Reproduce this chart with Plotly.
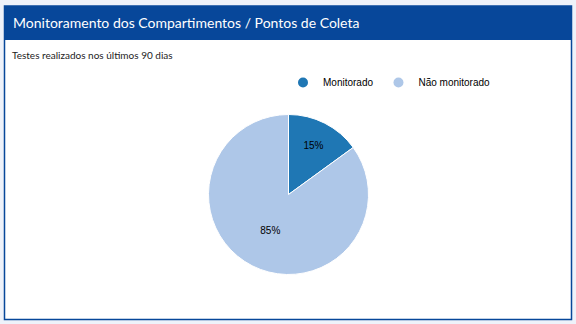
import plotly.graph_objects as go

labels = ["Monitorado", "Não monitorado"]
values = [15, 85]
colors = ["#1f77b4", "#aec7e8"]
title_text = "Monitoramento dos Compartimentos / Pontos de Coleta"
subtitle_text = "Testes realizados nos últimos 90 dias"

W, H = 576, 324
fig = go.Figure()

fig.add_trace(go.Pie(
    labels=labels, values=values, sort=False, direction="clockwise", rotation=0,
    marker=dict(colors=colors, line=dict(color="white", width=1)),
    textinfo="percent", textposition="inside", insidetextorientation="horizontal",
    textfont=dict(family="Liberation Sans, Arial", size=10, color="black"),
    showlegend=False, hoverinfo="label+percent",
    domain=dict(x=[208.5 / W, 368.5 / W], y=[(H - 274.5) / H, (H - 114.5) / H]),
))

for lab, col in zip(labels, colors):
    fig.add_trace(go.Scatter(
        x=[None], y=[None], mode="markers", name=lab,
        marker=dict(symbol="circle", size=10, color=col),
        xaxis="x", yaxis="y",
    ))

fig.update_layout(
    width=W, height=H,
    margin=dict(l=0, r=0, t=0, b=0),
    paper_bgcolor="#eef2fa",
    plot_bgcolor="rgba(0,0,0,0)",
    xaxis=dict(visible=False, domain=[0, 1]),
    yaxis=dict(visible=False, domain=[0, 1]),
    legend=dict(
        orientation="h", x=283 / W, y=1 - 68 / H, xanchor="left", yanchor="top",
        font=dict(family="Liberation Sans, Arial", size=10, color="black"),
        itemwidth=30, tracegroupgap=0, bgcolor="rgba(0,0,0,0)",
    ),
    shapes=[
        dict(type="rect", xref="paper", yref="paper",
             x0=4.5 / W, x1=571.5 / W, y0=1 - 319.5 / H, y1=1 - 6 / H,
             fillcolor="white", line=dict(color="#07479a", width=1.5), layer="below"),
        dict(type="rect", xref="paper", yref="paper",
             x0=4 / W, x1=572 / W, y0=1 - 40 / H, y1=1 - 6 / H,
             fillcolor="#07479a", line=dict(width=0), layer="below"),
    ],
    annotations=[
        dict(text=title_text, xref="paper", yref="paper", x=11 / W, y=1 - 23 / H,
             xanchor="left", yanchor="middle", showarrow=False,
             font=dict(family="Lato", size=14, color="white")),
        dict(text=subtitle_text, xref="paper", yref="paper", x=10 / W, y=1 - 55 / H,
             xanchor="left", yanchor="middle", showarrow=False,
             font=dict(family="Lato", size=10, color="#222222")),
    ],
)

fig.write_html("out.html")
